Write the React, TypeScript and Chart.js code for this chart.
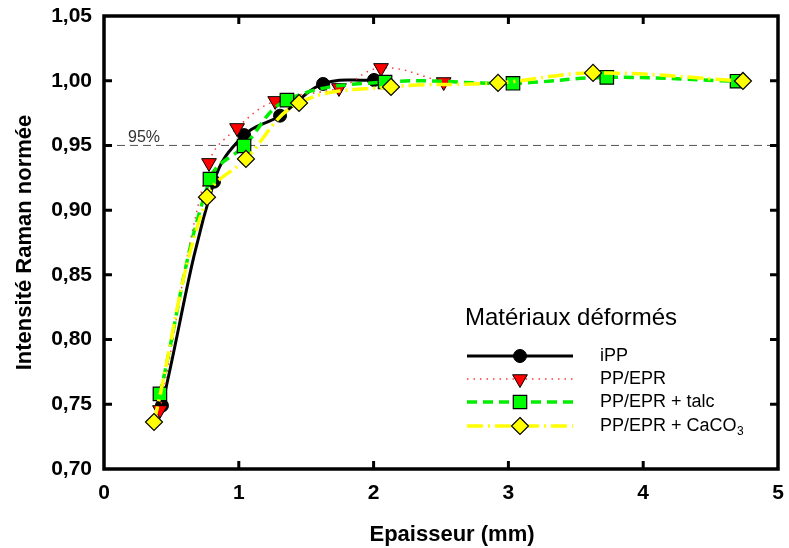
import React, { useEffect, useRef } from 'react';
import { Chart, registerables } from 'chart.js';

Chart.register(...registerables);

// ---- data ----
const xTicks = [0, 1, 2, 3, 4, 5];
const yTicks = [0.7, 0.75, 0.8, 0.85, 0.9, 0.95, 1.0, 1.05];
const yTickLabels = ['0,70', '0,75', '0,80', '0,85', '0,90', '0,95', '1,00', '1,05'];

const seriesNames = ['iPP', 'PP/EPR', 'PP/EPR + talc', 'PP/EPR + CaCO₃'];
const legendTitle = 'Matériaux déformés';
const xTitle = 'Epaisseur (mm)';
const yTitle = 'Intensité Raman normée';
const thresholdValue = 0.95;
const thresholdLabel = '95%';

const ippX = [0.43, 0.816, 1.039, 1.306, 1.625, 2.003];
const ippY = [0.749, 0.922, 0.958, 0.973, 0.9975, 1.0006];

const ppeprX = [0.415, 0.779, 0.987, 1.27, 1.743, 2.055, 2.52];
const ppeprY = [0.7456, 0.9365, 0.9635, 0.9844, 0.9944, 1.0099, 0.999];

const talcX = [0.415, 0.786, 1.039, 1.357, 2.085, 3.034, 3.73, 4.696];
const talcY = [0.758, 0.924, 0.9496, 0.985, 0.999, 0.998, 1.0026, 0.9996];

const caco3X = [0.371, 0.764, 1.053, 1.447, 2.129, 2.923, 3.628, 4.74];
const caco3Y = [0.7363, 0.91, 0.9396, 0.9828, 0.9952, 0.9983, 1.006, 0.9998];

const FONT = '"Liberation Sans", Arial, Helvetica, sans-serif';

function pts(xs: number[], ys: number[]) {
  return xs.map((x, i) => ({ x, y: ys[i] }));
}

function drawMarker(ctx: CanvasRenderingContext2D, style: string, x: number, y: number, r: number, rot: number, fill: string, stroke: string, bw: number) {
  ctx.save();
  ctx.fillStyle = fill;
  ctx.strokeStyle = stroke;
  ctx.lineWidth = bw;
  ctx.setLineDash([]);
  ctx.beginPath();
  if (style === 'circle') {
    ctx.arc(x, y, r, 0, Math.PI * 2);
  } else if (style === 'triangle') {
    let a = (rot * Math.PI) / 180;
    ctx.moveTo(x + Math.sin(a) * r, y - Math.cos(a) * r);
    a += (2 * Math.PI) / 3;
    ctx.lineTo(x + Math.sin(a) * r, y - Math.cos(a) * r);
    a += (2 * Math.PI) / 3;
    ctx.lineTo(x + Math.sin(a) * r, y - Math.cos(a) * r);
    ctx.closePath();
  } else if (style === 'rect') {
    const s = Math.SQRT1_2 * r;
    ctx.rect(x - s, y - s, 2 * s, 2 * s);
  } else if (style === 'rectRot') {
    ctx.moveTo(x, y - r);
    ctx.lineTo(x + r, y);
    ctx.lineTo(x, y + r);
    ctx.lineTo(x - r, y);
    ctx.closePath();
  }
  ctx.fill();
  if (bw > 0) ctx.stroke();
  ctx.restore();
}

const decorPlugin = {
  id: 'decor',
  beforeDatasetsDraw(chart: any) {
    const { ctx, chartArea: a, scales } = chart;
    const py = scales.y.getPixelForValue(thresholdValue);
    ctx.save();
    ctx.strokeStyle = '#555555';
    ctx.lineWidth = 1;
    ctx.setLineDash([8, 5]);
    ctx.beginPath();
    ctx.moveTo(a.left, py);
    ctx.lineTo(a.right, py);
    ctx.stroke();
    ctx.setLineDash([]);
    ctx.fillStyle = '#333333';
    ctx.font = `16px ${FONT}`;
    ctx.textBaseline = 'alphabetic';
    ctx.textAlign = 'left';
    ctx.fillText(thresholdLabel, a.left + 24, py - 3.5);
    ctx.restore();
  },
  afterDraw(chart: any) {
    const { ctx, chartArea: a, scales } = chart;
    ctx.save();
    ctx.setLineDash([]);
    ctx.strokeStyle = '#000';
    // inner ticks
    ctx.lineWidth = 3;
    const tl = 8;
    xTicks.forEach((v) => {
      const px = scales.x.getPixelForValue(v);
      if (Math.abs(px - a.left) < 2 || Math.abs(px - a.right) < 2) return;
      ctx.beginPath();
      ctx.moveTo(px, a.bottom);
      ctx.lineTo(px, a.bottom - tl);
      ctx.moveTo(px, a.top);
      ctx.lineTo(px, a.top + tl);
      ctx.stroke();
    });
    yTicks.forEach((v) => {
      const py = scales.y.getPixelForValue(v);
      if (Math.abs(py - a.top) < 2 || Math.abs(py - a.bottom) < 2) return;
      ctx.beginPath();
      ctx.moveTo(a.left, py);
      ctx.lineTo(a.left + tl, py);
      ctx.moveTo(a.right, py);
      ctx.lineTo(a.right - tl, py);
      ctx.stroke();
    });
    // frame
    ctx.lineWidth = 3.5;
    ctx.strokeRect(a.left, a.top, a.right - a.left, a.bottom - a.top);

    // axis titles
    ctx.fillStyle = '#000';
    ctx.font = `bold 22px ${FONT}`;
    ctx.textAlign = 'center';
    ctx.textBaseline = 'middle';
    ctx.fillText(xTitle, 452, 535);
    ctx.save();
    ctx.translate(24.5, (a.top + a.bottom) / 2);
    ctx.rotate(-Math.PI / 2);
    ctx.fillText(yTitle, 0, 0);
    ctx.restore();

    // legend
    ctx.textAlign = 'left';
    ctx.textBaseline = 'alphabetic';
    ctx.font = `24px ${FONT}`;
    ctx.fillStyle = '#000';
    ctx.fillText(legendTitle, 465, 325);
    const rows = [356, 379, 402, 426];
    chart.data.datasets.forEach((ds: any, i: number) => {
      const y = rows[i];
      ctx.save();
      ctx.strokeStyle = ds.borderColor;
      ctx.lineWidth = ds.borderWidth;
      ctx.setLineDash(ds.borderDash || []);
      ctx.beginPath();
      ctx.moveTo(467, y);
      ctx.lineTo(573, y);
      ctx.stroke();
      ctx.restore();
      drawMarker(ctx, ds.pointStyle, 520, y, ds.pointRadius, ds.pointRotation || 0, ds.pointBackgroundColor, ds.pointBorderColor, ds.pointBorderWidth);
      ctx.fillStyle = '#000';
      ctx.font = `18px ${FONT}`;
      ctx.textBaseline = 'middle';
      const label: string = ds.label;
      if (label.endsWith('₃')) {
        const base = label.slice(0, -1);
        ctx.fillText(base, 600, y);
        const w = ctx.measureText(base).width;
        ctx.font = `12px ${FONT}`;
        ctx.fillText('3', 600 + w + 0.5, y + 6);
      } else {
        ctx.fillText(label, 600, y);
      }
    });
    ctx.restore();
  },
};

function zeroPad(s: any) {
  s.paddingLeft = 0;
  s.paddingRight = 0;
  s.paddingTop = 0;
  s.paddingBottom = 0;
}

export default function App() {
  const ref = useRef<HTMLCanvasElement | null>(null);
  useEffect(() => {
    document.body.style.margin = '0';
    if (!ref.current) return;
    const chart = new Chart(ref.current, {
      type: 'line',
      data: {
        datasets: [
          {
            label: seriesNames[0],
            data: pts(ippX, ippY),
            borderColor: '#000000',
            borderWidth: 3,
            borderDash: [],
            pointStyle: 'circle',
            pointRadius: 6.5,
            pointBackgroundColor: '#000000',
            pointBorderColor: '#000000',
            pointBorderWidth: 1,
            tension: 0.4,
            order: 4,
          } as any,
          {
            label: seriesNames[1],
            data: pts(ppeprX, ppeprY),
            borderColor: '#ff3a3a',
            borderWidth: 1.5,
            borderDash: [1.5, 5],
            pointStyle: 'triangle',
            pointRotation: 180,
            pointRadius: 8.5,
            pointBackgroundColor: '#ff0000',
            pointBorderColor: '#000000',
            pointBorderWidth: 1,
            tension: 0.4,
            order: 3,
          },
          {
            label: seriesNames[2],
            data: pts(talcX, talcY),
            borderColor: '#00ee00',
            borderWidth: 3.5,
            borderDash: [10, 6],
            pointStyle: 'rect',
            pointRadius: 9.5,
            pointBackgroundColor: '#00ff00',
            pointBorderColor: '#000000',
            pointBorderWidth: 1.2,
            tension: 0.4,
            order: 2,
          },
          {
            label: seriesNames[3],
            data: pts(caco3X, caco3Y),
            borderColor: '#ffff00',
            borderWidth: 3.5,
            borderDash: [16, 5, 2, 5],
            pointStyle: 'rectRot',
            pointRadius: 8.5,
            pointBackgroundColor: '#ffff00',
            pointBorderColor: '#000000',
            pointBorderWidth: 1.2,
            tension: 0.4,
            order: 1,
          },
        ],
      },
      options: {
        animation: false,
        responsive: false,
        devicePixelRatio: 1,
        layout: { padding: { left: 0, right: 11, top: 16, bottom: 0 } },
        plugins: {
          legend: { display: false },
          tooltip: { enabled: false },
        },
        scales: {
          x: {
            type: 'linear',
            min: 0,
            max: 5,
            grid: { display: false, drawTicks: false },
            border: { display: false },
            afterBuildTicks: (s: any) => {
              s.ticks = xTicks.map((v) => ({ value: v }));
            },
            afterFit: (s: any) => {
              s.height = 79;
              zeroPad(s);
            },
            ticks: {
              color: '#000',
              font: { family: FONT, size: 21, weight: 'bold' },
              padding: 12,
              maxRotation: 0,
              callback: (v: any) => String(v),
            },
          },
          y: {
            type: 'linear',
            min: 0.7,
            max: 1.05,
            grid: { display: false, drawTicks: false },
            border: { display: false },
            afterBuildTicks: (s: any) => {
              s.ticks = yTicks.map((v) => ({ value: v }));
            },
            afterFit: (s: any) => {
              s.width = 104;
              zeroPad(s);
            },
            ticks: {
              color: '#000',
              font: { family: FONT, size: 21, weight: 'bold' },
              padding: 12,
              callback: (_v: any, i: number) => yTickLabels[i],
            },
          },
        },
      },
      plugins: [decorPlugin],
    });
    return () => chart.destroy();
  }, []);
  return (
    <div style={{ width: 789, height: 548 }}>
      <canvas ref={ref} width={789} height={548} />
    </div>
  );
}
